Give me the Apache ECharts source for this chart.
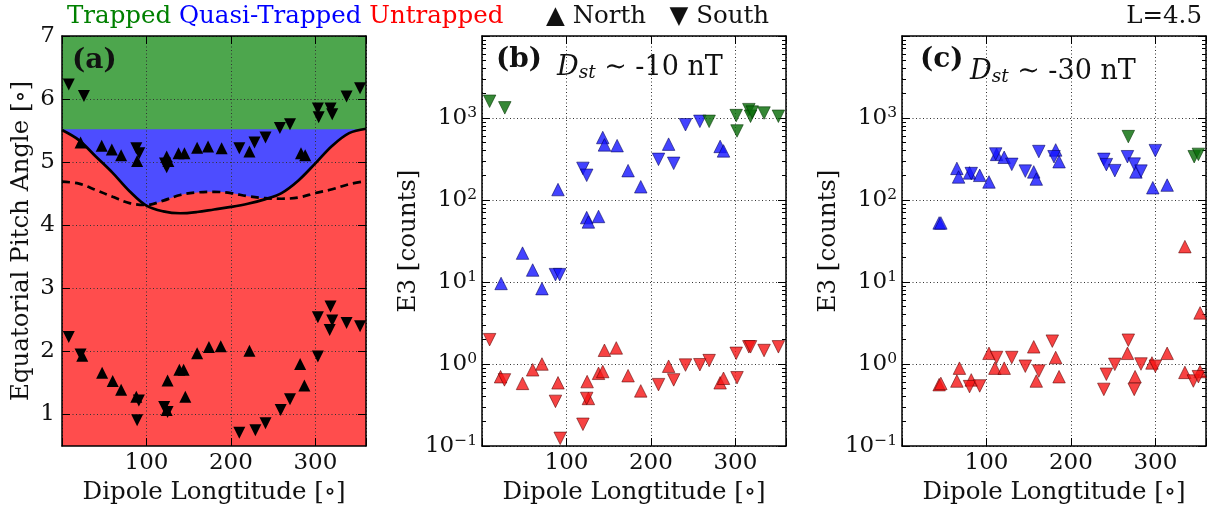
<!DOCTYPE html>
<html>
<head>
<meta charset="utf-8">
<script src="https://cdn.jsdelivr.net/npm/echarts@6/dist/echarts.min.js"></script>
<style>
html, body { margin: 0; padding: 0; background: #ffffff; }
#chart { width: 1211px; height: 507px; }
</style>
</head>
<body>
<div id="chart"></div>
<script>
// ---------- shared axis values ----------
const lonTicks = [100, 200, 300];
const pitchTicks = [1, 2, 3, 4, 5, 6, 7];
const logTickExponents = [-1, 0, 1, 2, 3];

// ---------- panel (a): boundary curves, sampled every 20 deg ----------
const curveLon     = [0, 20, 40, 60, 80, 100, 120, 140, 160, 180, 200, 220, 240, 260, 280, 300, 320, 340, 360];
const solidCurve   = [5.51, 5.35, 5.09, 4.83, 4.54, 4.31, 4.22, 4.19, 4.21, 4.25, 4.29, 4.34, 4.41, 4.51, 4.71, 4.98, 5.26, 5.46, 5.53];
const dashedCurve  = [4.69, 4.66, 4.56, 4.45, 4.35, 4.32, 4.39, 4.48, 4.52, 4.53, 4.51, 4.46, 4.43, 4.42, 4.44, 4.51, 4.57, 4.65, 4.70];
const trappedBoundary = 5.52;

// panel (a): equatorial pitch angles [lon, deg]
const aUpperNorth = [[22,5.31],[47,5.26],[59,5.20],[70,5.11],[89,5.02],[124,5.09],[126,5.02],[138,5.14],[145,5.14],[160,5.23],[173,5.25],[189,5.22],[222,5.17],[283,5.14],[288,5.11]];
const aUpperSouth = [[8,6.23],[26,6.05],[88,5.22],[91.5,5.14],[122,4.98],[124,4.92],[210,5.22],[228,5.31],[241,5.39],[258,5.54],[270,5.60],[303,5.85],[304,5.71],[318,5.85],[320,5.76],[337,6.04],[353,6.17]];
const aLowerNorth = [[24,1.93],[47.5,1.66],[60,1.53],[70,1.39],[88,1.28],[124,1.07],[125,1.54],[139,1.71],[144,1.71],[146,1.28],[160,1.97],[174,2.07],[188,2.08],[222,2.01],[282,1.80],[287,1.46]];
const aLowerSouth = [[8,2.23],[22,1.95],[89,0.91],[91,1.22],[121,1.12],[125,1.04],[210,0.71],[229,0.75],[241,0.86],[259,1.07],[270,1.24],[303,1.92],[303,2.54],[317,2.34],[318,2.71],[320,2.49],[337,2.45],[353,2.40]];

// panel (b): E3 counts, Dst ~ -10 nT
const bGreenSouth = [[9,1600],[27,1330],[269,910],[301,1070],[302,695],[316,1265],[318,1050],[320,1180],[334,1150],[351,1050]];
const bBlueNorth  = [[22.6,9.6],[48,22.5],[60,14],[71,8.3],[90,134],[124,61],[126,54],[138,63],[143,578],[145,470],[160,460],[173,228],[188,145],[221,480],[282,450],[286,397]];
const bBlueSouth  = [[87,12.3],[92,12.3],[119.5,243],[124,200],[209,313],[227,280],[241,827],[258,910]];
const bRedNorth   = [[22,0.70],[48,0.58],[60,0.85],[71,1.0],[90,0.59],[124.5,0.61],[126,0.38],[138,0.77],[143,0.81],[145,1.47],[159,1.57],[173,0.72],[188,0.47],[221,0.94],[282,0.59],[286,0.67]];
const bRedSouth   = [[9,1.98],[26.6,0.64],[87,0.35],[92.6,0.124],[119.5,0.184],[124,0.38],[209,0.56],[227,0.64],[241,0.97],[258,0.98],[269,1.10],[301,1.35],[302,0.68],[316,1.62],[318,1.62],[334,1.46],[351,1.62]];

// panel (c): E3 counts, Dst ~ -30 nT
const cGreenSouth = [[268,593],[346,337],[351,360]];
const cBlueNorth  = [[44,52.5],[46,52.5],[65,243],[67,191],[80,214],[92,200],[103,166],[112,360],[121,332],[156,220],[159,180],[182,408],[186,293],[277,220],[297,141],[314,152]];
const cBlueSouth  = [[82,210],[111,364],[130,272],[146,225],[162,390],[180,337],[239,313],[242,270],[252,228],[267,337],[275,274],[283,225],[300,400]];
const cRedNorth   = [[335,27],[44,0.56],[46,0.58],[65,0.62],[68,0.89],[82,0.64],[103,1.35],[110,0.89],[121,0.89],[156,1.62],[159,0.62],[182,1.2],[186,0.70],[267,1.35],[276,0.70],[296,1.03],[314,1.35],[335,0.79],[353,0.81],[353,4.2]];
const cRedSouth   = [[80,0.53],[92,0.54],[112,1.2],[130,1.2],[146,0.94],[162,0.82],[178,1.9],[239,0.49],[242,0.75],[252,0.99],[268,1.95],[275,0.49],[283,1.0],[300,0.94],[345,0.62],[351,0.70]];

// ---------- styling ----------
const SERIF = 'DejaVu Serif';
const FG = '#111111';
const TICK_FONT = 23;
const NAME_FONT = 24.5;
const zip = (xs, ys) => xs.map((x, i) => [x, ys[i]]);
// the red (untrapped) region is bounded by the higher of the two curves
const untrappedTop = solidCurve.map((v, i) => Math.max(v, dashedCurve[i]));

const chart = echarts.init(document.getElementById('chart'), null, { renderer: 'canvas' });

const gridBox = (left) => ({ left: left, top: 36, width: 304, height: 410, outerBoundsMode: 'none' });

const gridLine = { show: true, lineStyle: { color: '#333', width: 1, type: [1, 2.5] } };
const frameLine = { show: true, onZero: false, lineStyle: { color: '#000', width: 1.5 } };
const tickIn = { show: true, inside: true, length: 8, lineStyle: { color: '#000', width: 1 } };

function lonAxis(gridIndex, bottom, z) {
  return {
    type: 'value', gridIndex: gridIndex, position: bottom ? 'bottom' : 'top',
    min: 0, max: 360, interval: 100, z: z,
    axisLine: frameLine, axisTick: tickIn,
    splitLine: bottom ? gridLine : { show: false },
    axisLabel: bottom ? {
      show: true, margin: 6, color: FG, fontFamily: SERIF, fontSize: TICK_FONT,
      formatter: (v) => lonTicks.includes(v) ? String(v) : ''
    } : { show: false },
    name: bottom ? 'Dipole Longtitude [\u2218]' : '',
    nameLocation: 'middle', nameGap: 44,
    nameTextStyle: { color: FG, fontFamily: SERIF, fontSize: NAME_FONT, verticalAlign: 'middle' }
  };
}

function pitchAxis(left) {
  return {
    type: 'value', gridIndex: 0, position: left ? 'left' : 'right',
    min: 0.5, max: 7, z: 3,
    axisLine: frameLine,
    axisTick: Object.assign({}, tickIn, { customValues: pitchTicks }),
    splitLine: left ? gridLine : { show: false },
    axisLabel: left ? {
      show: true, margin: 7, color: FG, fontFamily: SERIF, fontSize: TICK_FONT,
      customValues: pitchTicks
    } : { show: false, customValues: pitchTicks },
    name: left ? 'Equatorial Pitch Angle [\u2218]' : '',
    nameLocation: 'middle', nameGap: 40,
    nameTextStyle: { color: FG, fontFamily: SERIF, fontSize: NAME_FONT, verticalAlign: 'middle' }
  };
}

function countAxis(gridIndex, left) {
  return {
    type: 'log', logBase: 10, gridIndex: gridIndex, position: left ? 'left' : 'right',
    min: 0.1, max: 10000,
    axisLine: frameLine, axisTick: tickIn,
    minorTick: { show: true, splitNumber: 9, length: 4, lineStyle: { color: '#000', width: 1 } },
    splitLine: left ? gridLine : { show: false },
    axisLabel: left ? {
      show: true, margin: 5, color: FG,
      formatter: (v) => {
        const e = Math.round(Math.log10(v));
        if (!logTickExponents.includes(e)) return '';
        return '{b|10}{s|' + (e < 0 ? '\u2212' + (-e) : String(e)) + '}';
      },
      rich: {
        b: { fontFamily: SERIF, fontSize: TICK_FONT, color: FG, lineHeight: 27 },
        s: { fontFamily: SERIF, fontSize: 15.5, color: FG, lineHeight: 17, verticalAlign: 'top' }
      }
    } : { show: false },
    name: left ? 'E3 [counts]' : '',
    nameLocation: 'middle', nameGap: 69,
    nameTextStyle: { color: FG, fontFamily: SERIF, fontSize: NAME_FONT, verticalAlign: 'middle' }
  };
}

function scatter(data, gi, south, fill, border, size, z) {
  return {
    type: 'scatter', xAxisIndex: gi * 2, yAxisIndex: gi * 2, data: data,
    symbol: 'triangle', symbolSize: size, symbolRotate: south ? 180 : 0,
    itemStyle: { color: fill, borderColor: border, borderWidth: border ? 0.7 : 0, opacity: 1 },
    z: z || 5, silent: true, clip: true
  };
}

const BLUE = 'rgba(20,20,255,0.8)', BLUE_E = 'rgba(0,0,90,0.8)';
const GREEN = 'rgba(10,110,10,0.82)', GREEN_E = 'rgba(0,50,0,0.8)';
const RED = 'rgba(245,20,20,0.8)', RED_E = 'rgba(90,0,0,0.8)';

const dstRich = {
  d: { fontFamily: SERIF, fontStyle: 'italic', fontSize: 27, fill: FG, lineHeight: 29 },
  s: { fontFamily: SERIF, fontStyle: 'italic', fontSize: 18.5, fill: FG, lineHeight: 18, verticalAlign: 'bottom' },
  t: { fontFamily: SERIF, fontSize: 27, fill: FG, lineHeight: 29 }
};

const option = {
  animation: false,
  backgroundColor: '#ffffff',
  grid: [
    Object.assign(gridBox(62), { show: true, backgroundColor: '#4da64d', borderWidth: 0, z: 0 }),
    gridBox(482),
    gridBox(902)
  ],
  xAxis: [
    lonAxis(0, true, 3), lonAxis(0, false, 3),
    lonAxis(1, true, 0), lonAxis(1, false, 0),
    lonAxis(2, true, 0), lonAxis(2, false, 0)
  ],
  yAxis: [
    pitchAxis(true), pitchAxis(false),
    countAxis(1, true), countAxis(1, false),
    countAxis(2, true), countAxis(2, false)
  ],
  series: [
    // panel (a) regions
    {
      type: 'line', xAxisIndex: 0, yAxisIndex: 0, z: 2, silent: true,
      data: [[0, trappedBoundary], [360, trappedBoundary]],
      showSymbol: false, lineStyle: { width: 0 },
      areaStyle: { color: '#4d4dff', opacity: 1, origin: 'start' }
    },
    {
      type: 'line', xAxisIndex: 0, yAxisIndex: 0, z: 2, silent: true,
      data: zip(curveLon, untrappedTop), smooth: 0.35,
      showSymbol: false, lineStyle: { width: 0 },
      areaStyle: { color: '#ff4d4d', opacity: 1, origin: 'start' }
    },
    {
      type: 'line', xAxisIndex: 0, yAxisIndex: 0, z: 4, silent: true,
      data: zip(curveLon, dashedCurve), smooth: 0.35, showSymbol: false,
      lineStyle: { color: '#000', width: 2.7, type: [8, 5] }
    },
    {
      type: 'line', xAxisIndex: 0, yAxisIndex: 0, z: 4, silent: true,
      data: zip(curveLon, solidCurve), smooth: 0.35, showSymbol: false,
      lineStyle: { color: '#000', width: 2.7 }
    },
    scatter(aUpperNorth, 0, false, '#000', null, 12),
    scatter(aUpperSouth, 0, true, '#000', null, 12),
    scatter(aLowerNorth, 0, false, '#000', null, 12),
    scatter(aLowerSouth, 0, true, '#000', null, 12),
    // panel (b)
    scatter(bRedNorth, 1, false, RED, RED_E, 12.5),
    scatter(bRedSouth, 1, true, RED, RED_E, 12.5),
    scatter(bBlueNorth, 1, false, BLUE, BLUE_E, 12.5),
    scatter(bBlueSouth, 1, true, BLUE, BLUE_E, 12.5),
    scatter(bGreenSouth, 1, true, GREEN, GREEN_E, 12.5),
    // panel (c)
    scatter(cRedNorth, 2, false, RED, RED_E, 12.5),
    scatter(cRedSouth, 2, true, RED, RED_E, 12.5),
    scatter(cBlueNorth, 2, false, BLUE, BLUE_E, 12.5),
    scatter(cBlueSouth, 2, true, BLUE, BLUE_E, 12.5),
    scatter(cGreenSouth, 2, true, GREEN, GREEN_E, 12.5)
  ],
  graphic: [
    {
      type: 'text', x: 67, y: 17, silent: true,
      style: {
        text: '{g|Trapped} {b|Quasi-Trapped} {r|Untrapped}',
        verticalAlign: 'middle',
        rich: {
          g: { fontFamily: SERIF, fontSize: 24.5, fill: '#008000' },
          b: { fontFamily: SERIF, fontSize: 24.5, fill: '#0000ff' },
          r: { fontFamily: SERIF, fontSize: 24.5, fill: '#ff0000' }
        },
        font: '24.5px "DejaVu Serif"'
      }
    },
    {
      type: 'text', x: 546, y: 17, silent: true,
      style: { text: '\u25B2 North   \u25BC South', font: '24.5px "DejaVu Serif"', fill: FG, verticalAlign: 'middle' }
    },
    {
      type: 'text', x: 1202, y: 17, silent: true,
      style: { text: 'L=4.5', font: '24.5px "DejaVu Serif"', fill: FG, align: 'right', verticalAlign: 'middle' }
    },
    {
      type: 'text', x: 72, y: 61, z: 10, silent: true,
      style: { text: '(a)', font: 'bold 28px "DejaVu Serif"', fill: FG, verticalAlign: 'middle' }
    },
    {
      type: 'text', x: 496, y: 60, z: 10, silent: true,
      style: { text: '(b)', font: 'bold 28px "DejaVu Serif"', fill: FG, verticalAlign: 'middle' }
    },
    {
      type: 'text', x: 920, y: 60, z: 10, silent: true,
      style: { text: '(c)', font: 'bold 28px "DejaVu Serif"', fill: FG, verticalAlign: 'middle' }
    },
    {
      type: 'text', x: 557, y: 68, z: 10, silent: true,
      style: { text: '{d|D}{s|st}{t| \u223C -10 nT}', verticalAlign: 'middle', rich: dstRich }
    },
    {
      type: 'text', x: 970, y: 72, z: 10, silent: true,
      style: { text: '{d|D}{s|st}{t| \u223C -30 nT}', verticalAlign: 'middle', rich: dstRich }
    }
  ]
};

chart.setOption(option);
</script>
</body>
</html>
